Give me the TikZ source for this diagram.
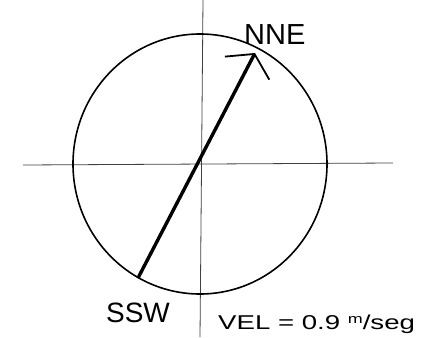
\documentclass[tikz,border=0pt]{standalone}
\usepackage{fontspec}
\setmainfont{Liberation Sans}
\usetikzlibrary{positioning,arrows.meta}

\begin{document}
\begin{tikzpicture}[
  x=1pt, y=-1pt,
  axis/.style={line width=0.8pt, black!75},
  rose/.style={draw, line width=1.6pt},
  vec/.style={line width=3.4pt, -{Straight Barb[length=16pt, width=50pt, line width=1.8pt]}},
  lbl/.style={inner sep=0pt},
]
\useasboundingbox (0,0) rectangle (443,337);

% Axes
\coordinate (o) at (200,164);
\draw[axis] (203,0) -- (200,337);
\draw[axis] (23,165) -- (393,163);

% Circle
\draw[rose] (o) ellipse [x radius=127, y radius=130];

% Direction of flow
\coordinate (ssw) at (138,278);
\coordinate (nne) at (255,53);
\draw[vec] (ssw) -- (nne);

% Labels
\node[lbl, anchor=base west, font=\fontsize{29}{29}\selectfont] (nnelbl) at (244,45) {NNE};
\node[lbl, anchor=base, font=\fontsize{28}{28}\selectfont] (sswlbl) at (138,322) {SSW};
\node[lbl, anchor=base west, font=\fontsize{20}{20}\selectfont] (vel) at (218,329)
  {\scalebox{1.38}[1]{VEL = 0.9 \raisebox{0.5ex}{\fontsize{13}{13}\selectfont m}/seg}};

\end{tikzpicture}
\end{document}
